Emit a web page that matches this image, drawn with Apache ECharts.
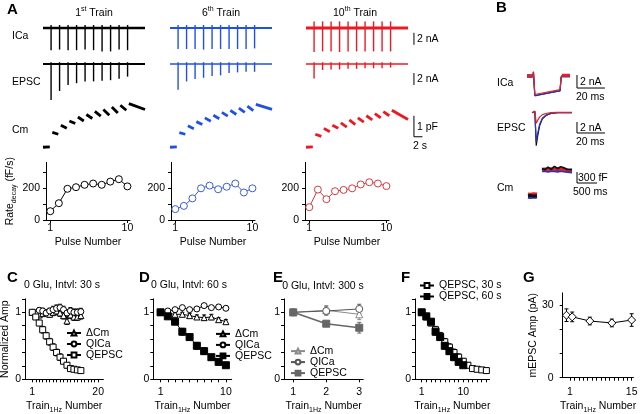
<!DOCTYPE html>
<html>
<head>
<meta charset="utf-8">
<script src="https://cdn.jsdelivr.net/npm/echarts@6/dist/echarts.min.js"></script>
<style>
  html, body { margin: 0; padding: 0; background: #fff; }
  #chart { width: 640px; height: 414px; }
</style>
</head>
<body>
<div id="chart"></div>
<script>
const FONT = '"Liberation Sans", Arial, Helvetica, sans-serif';
const FS = 10.5;

// ---------- Panel A: example trains (time in s, currents in nA, Cm in pF)
const pulseTimes = [1.9, 3.9, 5.9, 7.9, 9.9, 11.9, 13.9, 15.9, 17.9, 19.9];
const traceEnd = 24;
const cmSegStart = [0, 2.2, 4.2, 6.2, 8.2, 10.2, 12.2, 14.2, 16.2, 18.2, 20.2];
const cmSegEnd = [1.6, 3.6, 5.6, 7.6, 9.6, 11.6, 13.6, 15.6, 17.6, 19.6, 24.0];

const icaDown1 = [-3.7, -3.6, -3.7, -3.7, -3.6, -3.7, -3.9, -3.9, -3.6, -3.7];
const icaDown6 = [-3.5, -3.5, -3.5, -3.6, -3.5, -3.5, -3.5, -3.5, -3.5, -3.4];
const icaDown10 = [-4.0, -3.9, -3.9, -4.0, -3.9, -3.9, -3.9, -3.9, -3.9, -3.9];
const icaUp1 = [0.5, 0.5, 0.5, 0.5, 0.5, 0.5, 0.5, 0.5, 0.5, 0.5];
const icaUp6 = [0.5, 0.5, 0.5, 0.5, 0.5, 0.5, 0.5, 0.5, 0.5, 0.5];
const icaUp10 = [1.1, 1.1, 1.1, 1.1, 1.1, 1.1, 1.1, 1.1, 1.1, 1.1];

const epscPeak1 = [-6.0, -4.5, -3.5, -3.2, -2.9, -2.9, -2.8, -2.7, -2.45, -2.1];
const epscPeak6 = [-4.3, -2.9, -2.5, -2.3, -2.0, -1.9, -1.5, -1.4, -1.3, -1.3];
const epscPeak10 = [-2.4, -1.0, -0.9, -0.9, -0.8, -0.8, -0.7, -0.7, -0.7, -0.6];
const epscUp = [0.3, 0.3, 0.3, 0.3, 0.3, 0.3, 0.3, 0.3, 0.3, 0.3];

const cmStart1 = [0, 0.71, 1.05, 1.25, 1.44, 1.56, 1.71, 1.80, 1.92, 2.00, 2.08];
const cmEnd1 = [0.02, 0.62, 0.90, 1.13, 1.25, 1.37, 1.48, 1.52, 1.63, 1.76, 1.80];
const cmStart6 = [0, 0.70, 1.02, 1.22, 1.40, 1.52, 1.66, 1.76, 1.86, 1.96, 2.04];
const cmEnd6 = [0.02, 0.62, 0.88, 1.08, 1.24, 1.36, 1.48, 1.56, 1.66, 1.74, 1.80];
const cmStart10 = [0, 0.62, 0.90, 1.05, 1.16, 1.30, 1.40, 1.50, 1.60, 1.70, 1.76];
const cmEnd10 = [0.02, 0.52, 0.74, 0.90, 0.96, 1.08, 1.20, 1.30, 1.40, 1.50, 1.32];

// decay rate per pulse (fF/s)
const pulseNumber = [1, 2, 3, 4, 5, 6, 7, 8, 9, 10];
const rate1 = [55, 105, 195, 205, 220, 228, 220, 240, 255, 210];
const rate6 = [68, 88, 135, 198, 215, 192, 208, 228, 172, 198];
const rate10 = [80, 190, 130, 180, 188, 198, 222, 236, 228, 212];

// ---------- Panel B: overlaid single responses
const bIcaT = [9.3, 9.6, 10.6, 28.6, 29.4, 30.2];
const bIca1 = [0, 0.6, -3.0, -2.3, -0.2, 0.05];
const bIca6 = [0, 0.6, -3.05, -2.25, -0.2, 0.05];
const bIca10 = [0, 0.7, -2.85, -2.1, -0.1, 0.1];
const bEpscT = [8.6, 10.0, 10.6, 11.6, 12.6, 14.0, 16.0, 18.5, 22.0, 27.0, 37.1];
const bEpsc1 = [0, 0, 0.2, -6.0, -4.3, -2.4, -1.1, -0.5, -0.15, 0, 0];
const bEpsc6 = [0, 0, 0.2, -5.3, -3.8, -2.1, -1.0, -0.45, -0.12, 0, 0];
const bEpsc10 = [0, 0, 0.3, -1.9, -1.4, -0.8, -0.35, -0.15, 0, 0.05, 0.05];
const bCmPreT = [0.2, 0.27, 0.34, 0.425];
const bCmPre1 = [-20, -10, -30, -20];
const bCmPre6 = [-60, -70, -55, -65];
const bCmPre10 = [30, 20, 35, 25];
const bCmPostT = [0.55, 0.62, 0.7, 0.78, 0.86, 0.94, 1.02, 1.1, 1.18, 1.3];
const bCmPost1 = [720, 690, 760, 700, 780, 720, 770, 740, 700, 690];
const bCmPost6 = [660, 670, 650, 665, 660, 650, 670, 655, 640, 630];
const bCmPost10 = [700, 710, 690, 720, 700, 715, 700, 705, 690, 680];

// ---------- Panels C-G
const trains15 = [1, 2, 3, 4, 5, 6, 7, 8, 9, 10, 11, 12, 13, 14, 15];
const cQEPSC = [1.0, 0.93, 0.84, 0.74, 0.65, 0.56, 0.48, 0.40, 0.33, 0.27, 0.21, 0.16, 0.15, 0.14, 0.13];
const cQEPSCerr = [0, 0.03, 0.04, 0.05, 0.05, 0.05, 0.05, 0.05, 0.05, 0.04, 0.04, 0.02, 0.02, 0.02, 0.02];
const cQICa = [1.0, 0.98, 1.03, 1.02, 0.99, 1.02, 1.04, 1.06, 1.07, 1.04, 0.99, 1.02, 1.0, 1.0, 1.01];
const cQICaErr = [0, 0.03, 0.04, 0.04, 0.04, 0.04, 0.05, 0.05, 0.05, 0.05, 0.05, 0.05, 0.05, 0.05, 0.05];
const cDCm = [1.0, 0.97, 0.96, 0.98, 1.0, 0.97, 1.0, 1.02, 0.99, 0.95, 0.87, 0.96, 0.93, 0.93, 0.95];
const cDCmErr = [0, 0.03, 0.04, 0.04, 0.04, 0.04, 0.05, 0.05, 0.05, 0.05, 0.05, 0.05, 0.05, 0.05, 0.05];

const trains10 = [1, 2, 3, 4, 5, 6, 7, 8, 9, 10];
const dQEPSC = [1.0, 0.94, 0.86, 0.71, 0.63, 0.50, 0.42, 0.33, 0.26, 0.21];
const dQEPSCerr = [0, 0.02, 0.03, 0.05, 0.04, 0.05, 0.05, 0.04, 0.03, 0.03];
const dQICa = [1.0, 1.02, 1.04, 1.07, 1.04, 1.05, 1.1, 1.07, 1.08, 1.06];
const dQICaErr = [0, 0.02, 0.03, 0.03, 0.03, 0.03, 0.03, 0.03, 0.03, 0.03];
const dDCm = [1.0, 0.98, 0.97, 0.97, 0.95, 0.93, 0.92, 0.93, 0.89, 0.86];
const dDCmErr = [0, 0.02, 0.03, 0.03, 0.03, 0.03, 0.04, 0.04, 0.03, 0.03];

const trains3 = [1, 2, 3];
const eQEPSC = [1.0, 0.83, 0.77];
const eQEPSCerr = [0, 0.03, 0.08];
const eQICa = [1.0, 1.02, 1.05];
const eQICaErr = [0, 0.06, 0.07];
const eDCm = [1.0, 1.03, 0.97];
const eDCmErr = [0, 0.07, 0.08];

const gTrain = [0.2, 1.5, 5.5, 10.5, 15];
const gMepsc = [25.8, 25.1, 23.4, 22.6, 23.8];
const gMepscErr = [2.6, 2.0, 1.6, 1.6, 2.6];

// ---------- builders
const grids = [], xAxes = [], yAxes = [], series = [], legends = [], texts = [];

const RICH = {
  n: { fontSize: FS, lineHeight: 15, fontFamily: FONT, color: '#000' },
  s: { fontSize: 7, lineHeight: 8, verticalAlign: 'bottom', fontFamily: FONT, color: '#000' },
  sup: { fontSize: 7, lineHeight: 8, verticalAlign: 'top', fontFamily: FONT, color: '#000' }
};
const TRAIN_NAME = '{n|Train}{s|1Hz}{n| Number}';

function hidden(min, max) {
  return { type: 'value', min, max, show: false };
}

function visAxis(o) {
  return {
    type: 'value', min: o.min, max: o.max,
    axisLine: { show: true, onZero: false, lineStyle: { color: '#000', width: 1 } },
    axisTick: { show: true, length: o.tickLen || 3, customValues: o.ticks, lineStyle: { color: '#000', width: 1 } },
    axisLabel: { show: true, customValues: o.labels, color: '#000', fontSize: FS, fontFamily: FONT, margin: o.margin },
    splitLine: { show: false },
    name: o.name, nameLocation: 'middle', nameGap: o.nameGap, nameRotate: o.nameRotate,
    nameTextStyle: { color: '#000', fontSize: FS, fontFamily: FONT, rich: RICH }
  };
}

function addGrid(left, top, width, height, xa, ya) {
  const i = grids.length;
  grids.push({ left, top, width, height, outerBoundsMode: 'none' });
  xAxes.push(Object.assign({ gridIndex: i }, xa));
  yAxes.push(Object.assign({ gridIndex: i }, ya));
  return i;
}

function lineS(g, data, color, width, z) {
  return {
    type: 'line', xAxisIndex: g, yAxisIndex: g, data, symbol: 'none', silent: true,
    lineStyle: { color, width, cap: 'butt' }, itemStyle: { color }, z: z || 3
  };
}

// straight pieces: rows [x0, y0, x1, y1]
function segS(g, data, color, width, z) {
  return {
    type: 'custom', xAxisIndex: g, yAxisIndex: g, data, silent: true, z: z || 3,
    renderItem: (p, api) => {
      const a = api.coord([api.value(0), api.value(1)]);
      const b = api.coord([api.value(2), api.value(3)]);
      return { type: 'line', shape: { x1: a[0], y1: a[1], x2: b[0], y2: b[1] },
        style: { stroke: color, lineWidth: width, lineCap: 'butt' } };
    }
  };
}

function errS(g, xs, ys, es, color) {
  const data = [];
  xs.forEach((x, i) => { if (es[i] > 0) data.push([x, ys[i] - es[i], ys[i] + es[i]]); });
  return {
    type: 'custom', xAxisIndex: g, yAxisIndex: g, data, silent: true, z: 2,
    renderItem: (p, api) => {
      const lo = api.coord([api.value(0), api.value(1)]);
      const hi = api.coord([api.value(0), api.value(2)]);
      const st = { stroke: color, lineWidth: 1 };
      return { type: 'group', children: [
        { type: 'line', shape: { x1: lo[0], y1: lo[1], x2: hi[0], y2: hi[1] }, style: st },
        { type: 'line', shape: { x1: lo[0] - 2, y1: lo[1], x2: lo[0] + 2, y2: lo[1] }, style: st },
        { type: 'line', shape: { x1: hi[0] - 2, y1: hi[1], x2: hi[0] + 2, y2: hi[1] }, style: st }
      ] };
    }
  };
}

function markS(g, name, xs, ys, sym, size, stroke, fill, lw) {
  return {
    type: 'line', name, xAxisIndex: g, yAxisIndex: g,
    data: xs.map((x, i) => [x, ys[i]]),
    symbol: sym, symbolSize: size, showSymbol: true, silent: true,
    lineStyle: { color: stroke, width: lw || 1 },
    itemStyle: { color: fill, borderColor: stroke, borderWidth: 1 }, z: 4
  };
}

function label(x, y, text, o = {}) {
  return {
    type: 'text', x, y, rotation: o.rot || 0, silent: true,
    style: {
      text, fill: '#000', font: (o.bold ? 'bold ' : '') + (o.size || FS) + 'px ' + FONT,
      textAlign: o.align || 'left', align: o.align || 'left',
      textVerticalAlign: 'middle', verticalAlign: 'middle', rich: o.rich
    }
  };
}

// ---------- Panel A traces
const trains = [
  { left: 43, color: '#000000', icaW: 2.5, epW: 1.8, icaDown: icaDown1, icaUp: icaUp1, epsc: epscPeak1, cmA: cmStart1, cmB: cmEnd1 },
  { left: 170, color: '#1f50e8', icaW: 2, epW: 1.6, icaDown: icaDown6, icaUp: icaUp6, epsc: epscPeak6, cmA: cmStart6, cmB: cmEnd6 },
  { left: 306, color: '#f01820', icaW: 3.2, epW: 1.5, icaDown: icaDown10, icaUp: icaUp10, epsc: epscPeak10, cmA: cmStart10, cmB: cmEnd10 }
];

trains.forEach((tr, k) => {
  const gI = addGrid(tr.left, 16, 119, 42, hidden(0, 28), hidden(-5, 2));
  series.push(lineS(gI, [[0, 0], [traceEnd, 0]], tr.color, tr.icaW));
  series.push(segS(gI, pulseTimes.map((t, i) => [t, tr.icaDown[i], t, tr.icaUp[i]]), tr.color, 1.4));

  const gE = addGrid(tr.left, 58, 119, 48, hidden(0, 28), hidden(-7, 1));
  series.push(lineS(gE, [[0, 0], [traceEnd, 0]], tr.color, tr.epW));
  series.push(segS(gE, pulseTimes.map((t, i) => [t, tr.epsc[i], t, epscUp[i]]), tr.color, 1.4));

  const gC = addGrid(tr.left, 100, 119, 52.5, hidden(0, 28), hidden(-0.25, 2.25));
  series.push(segS(gC, cmSegStart.map((t, i) => [t, tr.cmA[i], cmSegEnd[i], tr.cmB[i]]), tr.color, 2.8));

  if (k === 2) {
    // scale bars: 2 nA, 2 nA, 1 pF / 2 s
    series.push(lineS(gI, [[25.4, -0.8], [25.4, -2.8]], '#000', 1));
    series.push(lineS(gE, [[25.4, -1.5], [25.4, -3.5]], '#000', 1));
    series.push(lineS(gC, [[25.4, 1.5], [25.4, 0.5], [27.4, 0.5]], '#000', 1));
  }
});

// rate of decay plots
const rateCfg = [
  { left: 46, color: '#000000', data: rate1 },
  { left: 171, color: '#3a5fd8', data: rate6 },
  { left: 305, color: '#d63a40', data: rate10 }
];
rateCfg.forEach((r, k) => {
  const ya = visAxis({ min: 0, max: 360, ticks: [0, 100, 200, 300], labels: [0, 200], margin: 6 });
  if (k === 0) {
    ya.name = '{n|Rate}{s|decay}{n| (fF/s)}';
    ya.nameGap = 28;
    ya.nameRotate = 90;
  }
  const g = addGrid(r.left, 162.4, 84, 57.6,
    visAxis({ min: 0.5, max: 10.3, ticks: [1, 10], labels: [1, 10], margin: 3, name: '{n|Pulse Number}', nameGap: 15 }),
    ya);
  series.push(markS(g, 'rate' + k, pulseNumber, r.data, 'circle', 7, r.color, '#fff', 1));
});

// ---------- Panel B
const bCols = ['#111111', '#2a36b0', '#e8202a'];
const bIcaSets = [bIca1, bIca6, bIca10];
const bEpscSets = [bEpsc1, bEpsc6, bEpsc10];
const bPreSets = [bCmPre1, bCmPre6, bCmPre10];
const bPostSets = [bCmPost1, bCmPost6, bCmPost10];

const gBI = addGrid(520, 63, 90, 39, hidden(0, 64.29), hidden(-4, 2));
const gBE = addGrid(520, 107.2, 90, 44, hidden(0, 64.29), hidden(-7, 1));
const gBC = addGrid(520, 162, 90, 44, hidden(0, 2.25), hidden(-300, 900));
[0, 1, 2].forEach(k => {
  const c = bCols[k];
  series.push(lineS(gBI, [[5, bIcaSets[k][0]], [9, bIcaSets[k][0]]], c, 3));
  series.push(lineS(gBI, bIcaT.map((t, i) => [t, bIcaSets[k][i]]), c, 1.2));
  series.push(lineS(gBI, [[30, bIcaSets[k][5]], [35.7, bIcaSets[k][5]]], c, 3));
  series.push(lineS(gBE, bEpscT.map((t, i) => [t, bEpscSets[k][i]]), c, 1.2));
});
[1, 2, 0].forEach(k => {
  const c = bCols[k];
  series.push(lineS(gBC, bCmPreT.map((t, i) => [t, bPreSets[k][i]]), c, 3));
  series.push(lineS(gBC, bCmPostT.map((t, i) => [t, bPostSets[k][i]]), c, k === 0 ? 1.8 : 3));
});
series.push(lineS(gBI, [[40.7, 0.15], [40.7, -1.85], [60.7, -1.85]], '#000', 1));
series.push(lineS(gBE, [[40.7, -1.69], [40.7, -3.69], [60.7, -3.69]], '#000', 1));
series.push(lineS(gBC, [[1.425, 627], [1.425, 327], [1.925, 327]], '#000', 1));

// ---------- Panels C-F (normalized amplitude)
const yNorm = (name, gap, margin) => visAxis({
  min: 0, max: 1.2, ticks: [0, 0.2, 0.4, 0.6, 0.8, 1, 1.2], labels: [0, 1], margin: margin || 4,
  name, nameGap: gap, nameRotate: 90
});

const gCp = addGrid(25, 298.9, 78.4, 80.4,
  visAxis({ min: -1.1, max: 21.5, ticks: [1, 2, 3, 4, 5, 6, 7, 8, 9, 10, 11, 12, 13, 14, 15, 16, 17, 18, 19, 20],
    labels: [1, 20], margin: 7, name: TRAIN_NAME, nameGap: 19 }),
  yNorm('{n|Normalized Amp}', 12));
series.push(errS(gCp, trains15, cDCm, cDCmErr, '#000'));
series.push(errS(gCp, trains15, cQICa, cQICaErr, '#000'));
series.push(errS(gCp, trains15, cQEPSC, cQEPSCerr, '#000'));
series.push(markS(gCp, 'C|ΔCm', trains15, cDCm, 'triangle', 6, '#000', '#fff'));
series.push(markS(gCp, 'C|QICa', trains15, cQICa, 'circle', 6, '#000', '#fff'));
series.push(markS(gCp, 'C|QEPSC', trains15, cQEPSC, 'rect', 6, '#000', '#fff'));

const gDp = addGrid(153.3, 298.9, 78.4, 80.4,
  visAxis({ min: 0, max: 10.8, ticks: [1, 2, 3, 4, 5, 6, 7, 8, 9, 10], labels: [1, 10], margin: 7, name: TRAIN_NAME, nameGap: 19 }),
  yNorm(undefined, 0));
series.push(errS(gDp, trains10, dDCm, dDCmErr, '#000'));
series.push(errS(gDp, trains10, dQICa, dQICaErr, '#000'));
series.push(errS(gDp, trains10, dQEPSC, dQEPSCerr, '#000'));
series.push(markS(gDp, 'D|ΔCm', trains10, dDCm, 'triangle', 6, '#000', '#fff'));
series.push(markS(gDp, 'D|QICa', trains10, dQICa, 'circle', 6, '#000', '#fff'));
series.push(markS(gDp, 'D|QEPSC', trains10, dQEPSC, 'rect', 7, '#000', '#000'));

const gEp = addGrid(284, 298.9, 79.2, 80.4,
  visAxis({ min: 0.72, max: 3.12, ticks: [1, 2, 3], labels: [1, 2, 3], margin: 7, name: TRAIN_NAME, nameGap: 19 }),
  yNorm(undefined, 0));
series.push(errS(gEp, trains3, eDCm, eDCmErr, '#888'));
series.push(errS(gEp, trains3, eQICa, eQICaErr, '#555'));
series.push(errS(gEp, trains3, eQEPSC, eQEPSCerr, '#666'));
series.push(markS(gEp, 'E|ΔCm', trains3, eDCm, 'triangle', 7, '#8a8a8a', '#fff'));
series.push(markS(gEp, 'E|QICa', trains3, eQICa, 'circle', 7, '#555', '#fff'));
series.push(markS(gEp, 'E|QEPSC', trains3, eQEPSC, 'rect', 7, '#666', '#666', 1.6));

const gFp = addGrid(415, 298.9, 74.6, 80.4,
  visAxis({ min: -0.45, max: 15.7, ticks: [1, 2, 3, 4, 5, 6, 7, 8, 9, 10, 11, 12, 13, 14, 15],
    labels: [1, 10], margin: 7, name: TRAIN_NAME, nameGap: 19 }),
  yNorm(undefined, 0));
series.push(errS(gFp, trains15, cQEPSC, cQEPSCerr, '#000'));
series.push(errS(gFp, trains10, dQEPSC, dQEPSCerr, '#000'));
series.push(markS(gFp, 'F|QEPSC, 30 s', trains15, cQEPSC, 'rect', 6, '#000', '#fff'));
series.push(markS(gFp, 'F|QEPSC, 60 s', trains10, dQEPSC, 'rect', 7, '#000', '#000'));

// ---------- Panel G
const gGp = addGrid(562.7, 292.9, 70.7, 84.8,
  visAxis({ min: -0.66, max: 15.4, ticks: [1, 2, 3, 4, 5, 6, 7, 8, 9, 10, 11, 12, 13, 14, 15],
    labels: [1, 15], margin: 9, name: TRAIN_NAME, nameGap: 21 }),
  visAxis({ min: 0, max: 35, ticks: [0, 10, 20, 30], labels: [0, 30], margin: 9,
    name: '{n|mEPSC Amp (pA)}', nameGap: 22, nameRotate: 90 }));
series.push(errS(gGp, gTrain, gMepsc, gMepscErr, '#000'));
series.push(markS(gGp, 'G|mEPSC', gTrain, gMepsc, 'diamond', 8, '#000', '#fff'));

// ---------- legends
function legendAt(names, left, top, lh) {
  return {
    data: names, left, top, orient: 'vertical', padding: 0, itemGap: 0,
    itemWidth: 14, itemHeight: 6, selectedMode: false,
    formatter: n => n.split('|')[1],
    textStyle: { color: '#000', fontSize: FS, fontFamily: FONT, lineHeight: lh }
  };
}
legends.push(legendAt(['C|ΔCm', 'C|QICa', 'C|QEPSC'], 66, 327.5, 8.5));
legends.push(legendAt(['D|ΔCm', 'D|QICa', 'D|QEPSC'], 215, 328.4, 9.3));
legends.push(legendAt(['E|ΔCm', 'E|QICa', 'E|QEPSC'], 290, 345.6, 8.7));
legends.push(legendAt(['F|QEPSC, 30 s', 'F|QEPSC, 60 s'], 419, 280, 10));

// ---------- texts
const supRich = { n: RICH.n, sup: RICH.sup };
texts.push(label(7, 10, 'A', { bold: true, size: 15 }));
texts.push(label(496, 8, 'B', { bold: true, size: 15 }));
texts.push(label(7, 278, 'C', { bold: true, size: 15 }));
texts.push(label(139, 278, 'D', { bold: true, size: 15 }));
texts.push(label(273, 278, 'E', { bold: true, size: 15 }));
texts.push(label(401, 278, 'F', { bold: true, size: 15 }));
texts.push(label(523, 278, 'G', { bold: true, size: 15 }));

texts.push(label(94, 13, '{n|1}{sup|st}{n| Train}', { align: 'center', rich: supRich }));
texts.push(label(221, 13, '{n|6}{sup|th}{n| Train}', { align: 'center', rich: supRich }));
texts.push(label(355, 13, '{n|10}{sup|th}{n| Train}', { align: 'center', rich: supRich }));
texts.push(label(12, 36, 'ICa'));
texts.push(label(12, 82, 'EPSC'));
texts.push(label(12, 130, 'Cm'));
texts.push(label(417, 39, '2 nA'));
texts.push(label(417, 79, '2 nA'));
texts.push(label(417, 127, '1 pF'));
texts.push(label(420, 146, '2 s', { align: 'center' }));

texts.push(label(497, 83, 'ICa'));
texts.push(label(497, 128, 'EPSC'));
texts.push(label(497, 188, 'Cm'));
texts.push(label(580, 82, '2 nA'));
texts.push(label(576, 97, '20 ms'));
texts.push(label(580, 128, '2 nA'));
texts.push(label(576, 142, '20 ms'));
texts.push(label(578, 178, '300 fF'));
texts.push(label(573, 192, '500 ms'));

texts.push(label(62, 285, '0 Glu, Intvl: 30 s', { align: 'center' }));
texts.push(label(189, 285, '0 Glu, Intvl: 60 s', { align: 'center' }));
texts.push(label(323, 286, '0 Glu, Intvl: 300 s', { align: 'center' }));

const chart = echarts.init(document.getElementById('chart'), null, { renderer: 'canvas' });
chart.setOption({
  animation: false,
  backgroundColor: '#fff',
  textStyle: { fontFamily: FONT },
  grid: grids,
  xAxis: xAxes,
  yAxis: yAxes,
  legend: legends,
  series,
  graphic: { elements: texts }
});
</script>
</body>
</html>
